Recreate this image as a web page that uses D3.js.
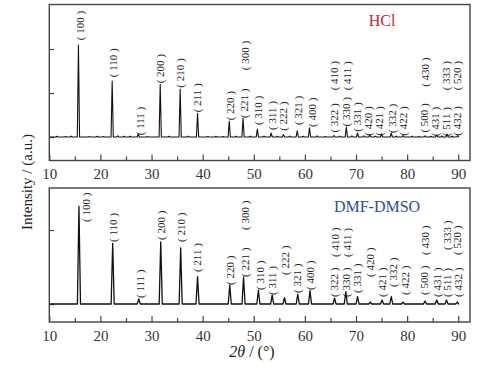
<!DOCTYPE html>
<html>
<head>
<meta charset="utf-8">
<script src="https://cdn.jsdelivr.net/npm/d3@7"></script>
<style>
  body { margin: 0; background: #fff; }
  svg { display: block; }
</style>
</head>
<body>
<div id="chart"></div>
<script>
// peak positions (2θ) and heights (a.u., above baseline)
const hclPos = [15.7, 22.3, 27.4, 31.7, 35.6, 39.0, 45.2, 47.9, 50.7, 53.4, 55.8, 58.5, 60.9, 65.7, 68.1, 70.3, 72.7, 75.0, 76.9, 79.2, 83.5, 85.8, 87.8, 89.9]
const hclInt = [104.5, 63.6, 3.4, 60, 54.5, 27, 18, 21.6, 9, 4.5, 2.8, 7, 10.5, 1.7, 11.4, 4.5, 2.3, 3.4, 4.5, 1.7, 1.2, 2.3, 3.4, 1.7]
// small bumps of the noisy HCl baseline
const hclNoise = [[11.5, 0.8], [13.2, 0.6], [14.3, 1.0], [17.8, 0.7], [19.4, 0.9], [20.6, 0.6], [23.4, 1.4], [24.6, 0.8], [25.8, 1.1], [29.2, 0.7], [33.4, 0.8], [37.2, 1.0], [41.0, 0.7], [42.6, 0.9], [44.0, 0.6], [46.5, 0.8], [49.3, 1.0], [52.0, 1.1], [54.6, 0.8], [57.0, 1.0], [59.7, 0.9], [62.4, 1.2], [64.0, 0.7], [66.8, 1.0], [69.2, 1.3], [71.5, 1.4], [73.8, 1.0], [77.9, 1.1], [81.0, 0.8], [82.3, 0.6], [84.6, 0.9], [86.8, 1.2], [88.8, 1.0]]
const dmfPos = [15.8, 22.4, 27.5, 31.8, 35.7, 39.0, 45.3, 48.0, 50.9, 53.6, 56.0, 58.6, 61.0, 65.8, 68.0, 70.3, 72.8, 75.1, 76.9, 79.2, 83.5, 85.8, 87.7, 89.8]
const dmfInt = [132, 82, 6.8, 84, 76, 37, 25.7, 36.5, 19, 12, 8.5, 13.5, 18, 8, 16.6, 10, 2.7, 5.4, 10, 2.7, 4, 5.4, 5.4, 2.7]

// (hkl) labels: text, 2θ, intensity at the label foot
const hclLabels = [
  ["100", 16.0, 110], ["110", 22.5, 68], ["111", 27.7, 2], ["200", 31.7, 61], ["210", 35.6, 56],
  ["211", 38.9, 28], ["220", 45.4, 19], ["221", 48.1, 21.6], ["300", 48.3, 76], ["310", 50.8, 13.6],
  ["311", 53.6, 8], ["222", 55.7, 7], ["321", 58.7, 13.6], ["400", 61.4, 11.4], ["410", 65.8, 53],
  ["411", 68.2, 53], ["322", 65.8, 5], ["330", 68.1, 12], ["331", 70.3, 6], ["420", 72.3, 1.5],
  ["421", 74.6, 1.5], ["332", 77.0, 4.5], ["422", 79.3, 1.5], ["430", 83.5, 57], ["500", 83.3, 5],
  ["431", 85.5, 1], ["511", 87.7, 1], ["432", 89.8, 1.5], ["333", 87.7, 53], ["520", 89.8, 53]
]
const dmfLabels = [
  ["100", 17.2, 110.8], ["110", 22.5, 83.8], ["111", 27.7, 8.1], ["200", 31.8, 86.5], ["210", 35.7, 83.8],
  ["211", 38.9, 43.2], ["220", 45.4, 25.7], ["221", 48.3, 36.5], ["300", 48.3, 100], ["310", 51.2, 18.9],
  ["311", 53.6, 12.2], ["222", 56.1, 39.2], ["321", 58.4, 14.9], ["400", 61.0, 18.9], ["410", 65.9, 63.5],
  ["411", 68.2, 63.5], ["322", 65.7, 9.5], ["330", 68.0, 9.5], ["331", 70.2, 14.9], ["420", 72.7, 36.5],
  ["421", 75.1, 9.5], ["332", 77.2, 23], ["422", 79.6, 12.2], ["430", 83.5, 66.2], ["500", 83.3, 12.2],
  ["431", 85.9, 9.5], ["511", 87.8, 9.5], ["432", 90.0, 9.5], ["333", 87.8, 73], ["520", 89.8, 66.2]
]

const xMajor = [10, 20, 30, 40, 50, 60, 70, 80, 90]
const xMinor = [15, 25, 35, 45, 55, 65, 75, 85]

const width = 488, height = 370
const serif = "'Liberation Serif', 'Times New Roman', serif"
const svg = d3.select("#chart").append("svg")
  .attr("width", width)
  .attr("height", height)
  .style("font-family", serif)

const x = d3.scaleLinear().domain([10, 92.3]).range([49.3, 470])

function patternPoints(pos, ints, halfWidth, noise) {
  let bumps = pos.map((p, i) => [p, ints[i], halfWidth])
  if (noise) noise.forEach(n => bumps.push([n[0], n[1], 0.2]))
  bumps.sort((a, b) => a[0] - b[0])
  let pts = [[10, 0]]
  bumps.forEach(b => {
    pts.push([b[0] - b[2], 0], [b[0], b[1]], [b[0] + b[2], 0])
  })
  pts.push([90, 0])
  return pts
}

function drawPanel(opt) {
  const g = svg.append("g")
  const y = d3.scaleLinear().domain(opt.domain).range([opt.bottom, opt.top])

  // x ticks (inward) and labels
  const ax = g.append("g")
    .attr("transform", `translate(0,${opt.bottom})`)
    .call(d3.axisBottom(x).tickValues(xMajor).tickSize(-6).tickPadding(8).tickFormat(d3.format("d")))
  ax.attr("font-family", null).attr("font-size", null)
  ax.select(".domain").remove()
  ax.selectAll("line").attr("stroke", "#444").attr("stroke-width", 1.2)
  ax.selectAll("text").attr("fill", "#333").style("font-size", "15px").style("font-family", serif)

  const axm = g.append("g")
    .attr("transform", `translate(0,${opt.bottom})`)
    .call(d3.axisBottom(x).tickValues(xMinor).tickSize(-4).tickFormat(""))
  axm.select(".domain").remove()
  axm.selectAll("line").attr("stroke", "#444").attr("stroke-width", 1.2)

  const ay = g.append("g")
    .attr("transform", `translate(${x(10)},0)`)
    .call(d3.axisLeft(y).tickValues(opt.yTicks).tickSize(-5).tickFormat(""))
  ay.select(".domain").remove()
  ay.selectAll("line").attr("stroke", "#444").attr("stroke-width", 1.2)

  // pattern
  const line = d3.line().x(d => x(d[0])).y(d => y(d[1]))
  g.append("path")
    .datum(patternPoints(opt.pos, opt.ints, opt.halfWidth, opt.noise))
    .attr("fill", "none")
    .attr("stroke", "#111")
    .attr("stroke-width", opt.lineWidth)
    .attr("stroke-linejoin", "round")
    .attr("d", line)

  // hkl labels
  g.selectAll("text.hkl")
    .data(opt.labels)
    .enter().append("text")
    .attr("class", "hkl")
    .attr("transform", d => `translate(${x(d[1])},${y(d[2])}) rotate(-90)`)
    .attr("dy", "0.35em")
    .attr("fill", "#222")
    .style("font-size", "11px")
    .text(d => "( " + d[0] + " )")

  // sample name
  g.append("text")
    .attr("x", opt.nameX)
    .attr("y", opt.nameY)
    .attr("text-anchor", "middle")
    .attr("fill", opt.nameColor)
    .style("font-size", "16px")
    .text(opt.name)

  // frame
  g.append("rect")
    .attr("x", x(10))
    .attr("y", opt.top)
    .attr("width", x.range()[1] - x(10))
    .attr("height", opt.bottom - opt.top)
    .attr("fill", "none")
    .attr("stroke", "#444")
    .attr("stroke-width", 1.4)
}

drawPanel({
  top: 4.5, bottom: 160.5, domain: [-26.7, 150.6], yTicks: [0, 50, 100],
  pos: hclPos, ints: hclInt, noise: hclNoise, halfWidth: 0.22, lineWidth: 1.1,
  labels: hclLabels, name: "HCl", nameColor: "#c0272d", nameX: 382, nameY: 25.5
})

drawPanel({
  top: 188, bottom: 322, domain: [-24.3, 156.8], yTicks: [0, 100],
  pos: dmfPos, ints: dmfInt, halfWidth: 0.3, lineWidth: 1.3,
  labels: dmfLabels, name: "DMF-DMSO", nameColor: "#2b4d9b", nameX: 377, nameY: 211.5
})

// axis titles
svg.append("text")
  .attr("transform", "translate(32,182) rotate(-90)")
  .attr("text-anchor", "middle")
  .attr("fill", "#222")
  .style("font-size", "15px")
  .text("Intensity / (a.u.)")

const xt = svg.append("text")
  .attr("x", 252)
  .attr("y", 357)
  .attr("text-anchor", "middle")
  .attr("fill", "#222")
  .style("font-size", "16px")
xt.append("tspan").style("font-style", "italic").text("2θ")
xt.append("tspan").text(" / (°)")
</script>
</body>
</html>
